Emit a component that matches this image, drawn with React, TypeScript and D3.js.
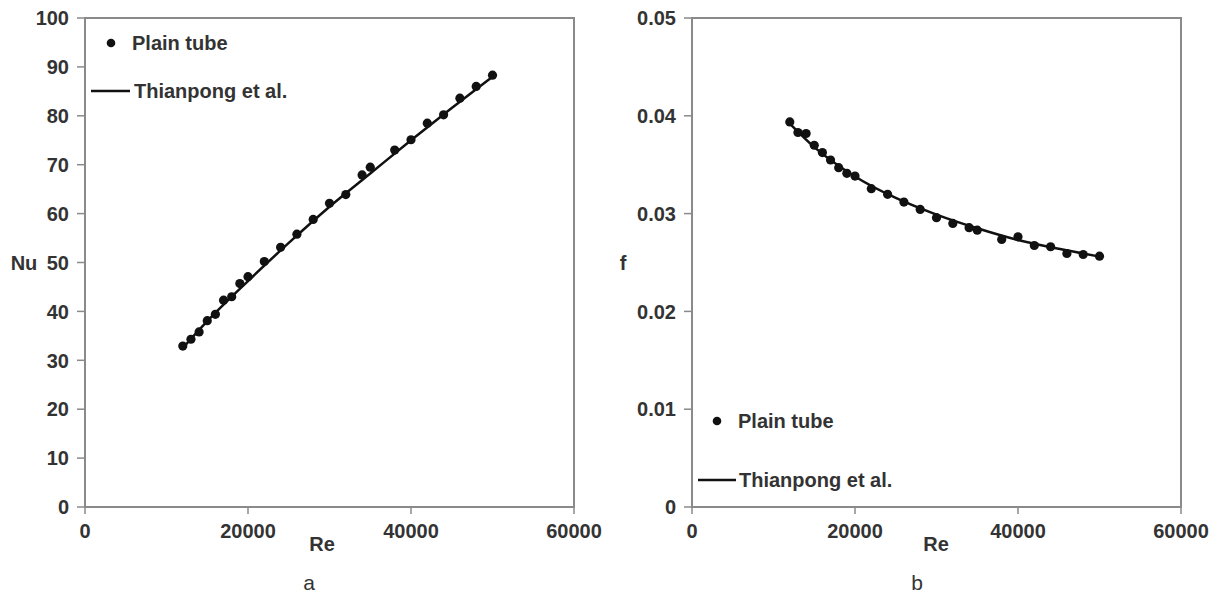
import React from "react";
import * as d3 from "d3";

// ---- data ----
const reA = [12000, 13000, 14000, 15000, 16000, 17000, 18000, 19000, 20000, 22000, 24000, 26000, 28000, 30000, 32000, 34000, 35000, 38000, 40000, 42000, 44000, 46000, 48000, 50000];
const nuPlain = [32.9, 34.3, 35.8, 38.1, 39.4, 42.3, 43.0, 45.7, 47.1, 50.2, 53.1, 55.8, 58.8, 62.1, 63.9, 67.9, 69.5, 73.0, 75.1, 78.5, 80.2, 83.6, 86.0, 88.3];
const reLineA = [12000, 15000, 20000, 25000, 30000, 35000, 40000, 45000, 50000];
const nuThianpong = [32.5, 38.0, 46.2, 54.0, 61.4, 68.2, 75.0, 81.6, 88.0];

const reB = [12000, 13000, 14000, 15000, 16000, 17000, 18000, 19000, 20000, 22000, 24000, 26000, 28000, 30000, 32000, 34000, 35000, 38000, 40000, 42000, 44000, 46000, 48000, 50000];
const fPlain = [0.03937, 0.03829, 0.03819, 0.03699, 0.03624, 0.03548, 0.0347, 0.03412, 0.03384, 0.03255, 0.03197, 0.03118, 0.03043, 0.02958, 0.029, 0.02856, 0.02831, 0.02736, 0.02763, 0.02674, 0.02661, 0.02592, 0.02582, 0.02565];
const reLineB = [12000, 15000, 20000, 25000, 30000, 35000, 40000, 45000, 50000];
const fThianpong = [0.0392, 0.0368, 0.0338, 0.0316, 0.0299, 0.0285, 0.0273, 0.0264, 0.0256];

const xTicks = [0, 20000, 40000, 60000];
const nuTicks = [0, 10, 20, 30, 40, 50, 60, 70, 80, 90, 100];
const fTicks = [0, 0.01, 0.02, 0.03, 0.04, 0.05];
const fTickLabels = ["0", "0.01", "0.02", "0.03", "0.04", "0.05"];

const FONT = "Liberation Sans, Arial, sans-serif";
const AXIS = "#8a8a8a";
const TXT = "#333";

type PanelProps = {
  left: number; top: number; size: number;
  yDomain: [number, number];
  yTicks: number[]; yLabels: string[];
  xs: number[]; ys: number[]; lx: number[]; ly: number[];
  yTitle: string; yTitleX: number;
  reX: number; letter: string; letterX: number;
  legend: { dotX: number; dotY: number; lineX1: number; lineX2: number; lineY: number; text1X: number; text2X: number };
};

function Panel(p: PanelProps) {
  const x = d3.scaleLinear().domain([0, 60000]).range([p.left, p.left + p.size]);
  const y = d3.scaleLinear().domain(p.yDomain).range([p.top + p.size, p.top]);
  const pts = p.lx.map((v, i) => [v, p.ly[i]] as [number, number]);
  const line = d3.line<[number, number]>().x(d => x(d[0])).y(d => y(d[1])).curve(d3.curveMonotoneX);
  const bottom = p.top + p.size;
  const L = p.legend;
  return (
    <g fontFamily={FONT}>
      <rect x={p.left} y={p.top} width={p.size} height={p.size} fill="none" stroke={AXIS} strokeWidth={2} />
      {p.yTicks.map((t, i) => (
        <g key={"y" + i}>
          <line x1={p.left - 8} x2={p.left} y1={y(t)} y2={y(t)} stroke={AXIS} strokeWidth={1.5} />
          <text x={p.left - 16} y={y(t)} dy="0.36em" textAnchor="end" fontSize={20} fontWeight="bold" fill={TXT}>{p.yLabels[i]}</text>
        </g>
      ))}
      {xTicks.map((t, i) => (
        <g key={"x" + i}>
          <line x1={x(t)} x2={x(t)} y1={bottom} y2={bottom + 7} stroke={AXIS} strokeWidth={1.5} />
          <text x={x(t)} y={bottom + 31} textAnchor="middle" fontSize={20} fontWeight="bold" fill={TXT}>{t}</text>
        </g>
      ))}
      <text x={p.yTitleX} y={y((p.yDomain[0] + p.yDomain[1]) / 2)} dy="0.36em" textAnchor="middle" fontSize={20} fontWeight="bold" fill={TXT}>{p.yTitle}</text>
      <text x={p.reX} y={bottom + 44} textAnchor="middle" fontSize={20} fontWeight="bold" fill={TXT}>Re</text>
      <text x={p.letterX} y={bottom + 83} textAnchor="middle" fontSize={21} fill={TXT}>{p.letter}</text>
      <path d={line(pts) || ""} fill="none" stroke="#111" strokeWidth={2.5} />
      {p.xs.map((v, i) => (
        <circle key={"c" + i} cx={x(v)} cy={y(p.ys[i])} r={4.6} fill="#111" />
      ))}
      <circle cx={L.dotX} cy={L.dotY} r={4.3} fill="#111" />
      <text x={L.text1X} y={L.dotY} dy="0.36em" fontSize={20} fontWeight="bold" fill={TXT}>Plain tube</text>
      <line x1={L.lineX1} x2={L.lineX2} y1={L.lineY} y2={L.lineY} stroke="#111" strokeWidth={2.5} />
      <text x={L.text2X} y={L.lineY} dy="0.36em" fontSize={20} fontWeight="bold" fill={TXT}>Thianpong et al.</text>
    </g>
  );
}

export default function App() {
  return (
    <svg width={1220} height={597} style={{ position: "absolute", left: 0, top: 0, background: "#fff" }}>
      <Panel
        left={85} top={18} size={489}
        yDomain={[0, 100]} yTicks={nuTicks} yLabels={nuTicks.map(String)}
        xs={reA} ys={nuPlain} lx={reLineA} ly={nuThianpong}
        yTitle="Nu" yTitleX={24}
        reX={322} letter="a" letterX={309}
        legend={{ dotX: 111, dotY: 43, lineX1: 91, lineX2: 130, lineY: 91, text1X: 132, text2X: 134 }}
      />
      <Panel
        left={692} top={18} size={489}
        yDomain={[0, 0.05]} yTicks={fTicks} yLabels={fTickLabels}
        xs={reB} ys={fPlain} lx={reLineB} ly={fThianpong}
        yTitle="f" yTitleX={623}
        reX={936} letter="b" letterX={917}
        legend={{ dotX: 717, dotY: 421, lineX1: 698, lineX2: 736, lineY: 480, text1X: 738, text2X: 739 }}
      />
    </svg>
  );
}
